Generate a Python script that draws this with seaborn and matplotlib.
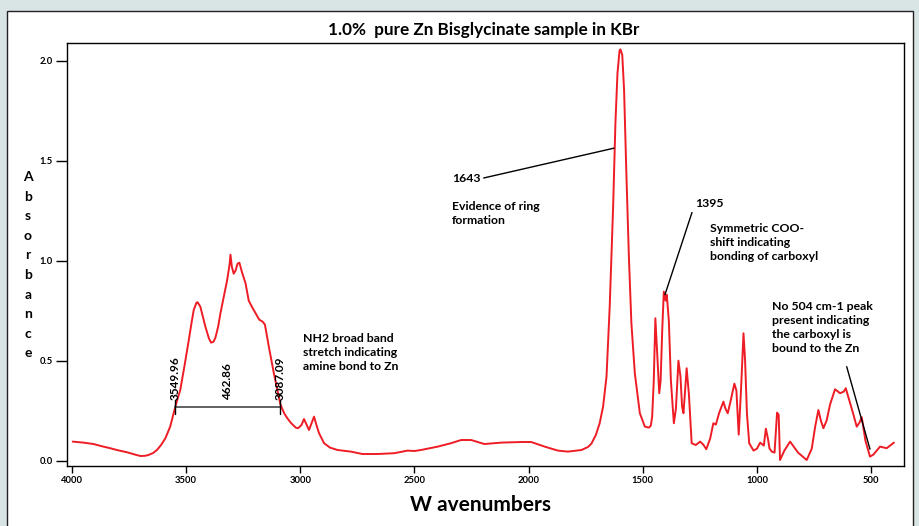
import numpy as np
import pandas as pd
import matplotlib
matplotlib.use("Agg")
import matplotlib.pyplot as plt
from matplotlib.patches import Rectangle
import seaborn as sns

# ---------------- data ----------------
wavenumber = [
    3997, 3950, 3906, 3870, 3833, 3800, 3760, 3730, 3701, 3680, 3665, 3645, 3628, 3610, 3591,
    3570, 3552, 3540, 3526, 3508, 3489, 3475, 3467, 3455, 3450, 3438, 3427, 3416, 3400, 3391,
    3380, 3372, 3360, 3350, 3335, 3321, 3310, 3306, 3300, 3292, 3284, 3275, 3267, 3255, 3240,
    3226, 3210, 3196, 3180, 3165, 3155, 3138, 3116, 3100, 3087, 3070, 3057, 3040, 3020, 3010,
    2995, 2984, 2975, 2962, 2950, 2940, 2930, 2918, 2896, 2870, 2837, 2800, 2779, 2728, 2662,
    2589, 2530, 2500, 2472, 2398, 2340, 2296, 2252, 2194, 2120, 2033, 1989, 1930, 1872, 1828,
    1769, 1740, 1725, 1705, 1689, 1674, 1659, 1645, 1630, 1620, 1611, 1602, 1598, 1590, 1582,
    1572, 1561, 1550, 1535, 1513, 1491, 1473, 1465, 1459, 1452, 1445, 1440, 1428, 1422, 1415,
    1408, 1400, 1395, 1386, 1377, 1364, 1355, 1344, 1335, 1328, 1322, 1316, 1308, 1298, 1286,
    1268, 1249, 1235, 1222, 1205, 1191, 1180, 1166, 1147, 1138, 1128, 1115, 1099, 1090, 1080,
    1070, 1059, 1052, 1044, 1034, 1015, 1000, 986, 970, 961, 952, 945, 935, 923, 912,
    905, 899, 880, 855, 820, 782, 760, 745, 731, 720, 709, 695, 680, 658, 636,
    620, 611, 595, 580, 563, 551, 541, 525, 505, 490, 461, 432, 400,
]
absorbance = [
    0.095, 0.090, 0.083, 0.072, 0.062, 0.052, 0.042, 0.032, 0.023, 0.024, 0.028, 0.038, 0.053, 0.078, 0.112,
    0.170, 0.250, 0.300, 0.353, 0.470, 0.600, 0.700, 0.753, 0.790, 0.792, 0.770, 0.720, 0.670, 0.610, 0.590,
    0.595, 0.615, 0.670, 0.737, 0.820, 0.900, 0.980, 1.030, 0.970, 0.935, 0.950, 0.985, 0.990, 0.940, 0.887,
    0.800, 0.765, 0.737, 0.705, 0.695, 0.680, 0.570, 0.437, 0.350, 0.280, 0.235, 0.212, 0.187, 0.165, 0.162,
    0.178, 0.208, 0.185, 0.153, 0.190, 0.220, 0.180, 0.137, 0.087, 0.065, 0.053, 0.048, 0.045, 0.033, 0.033,
    0.037, 0.050, 0.048, 0.053, 0.070, 0.087, 0.103, 0.103, 0.083, 0.090, 0.093, 0.093, 0.070, 0.050, 0.045,
    0.053, 0.068, 0.085, 0.130, 0.187, 0.270, 0.420, 0.770, 1.270, 1.687, 1.937, 2.050, 2.057, 2.030, 1.853,
    1.437, 1.020, 0.687, 0.437, 0.237, 0.170, 0.165, 0.175, 0.220, 0.400, 0.712, 0.600, 0.337, 0.400, 0.650,
    0.845, 0.800, 0.830, 0.700, 0.400, 0.187, 0.260, 0.500, 0.420, 0.270, 0.237, 0.330, 0.462, 0.330, 0.087,
    0.078, 0.095, 0.080, 0.057, 0.110, 0.187, 0.180, 0.237, 0.295, 0.260, 0.237, 0.300, 0.385, 0.350, 0.130,
    0.350, 0.637, 0.500, 0.237, 0.087, 0.050, 0.060, 0.090, 0.075, 0.160, 0.110, 0.060, 0.045, 0.040, 0.240,
    0.230, 0.003, 0.050, 0.095, 0.040, 0.003, 0.060, 0.170, 0.253, 0.200, 0.162, 0.200, 0.280, 0.357, 0.337,
    0.345, 0.362, 0.300, 0.240, 0.170, 0.190, 0.217, 0.100, 0.020, 0.030, 0.070, 0.062, 0.090,
]

x_ticks = [4000, 3500, 3000, 2500, 2000, 1500, 1000, 500]
y_ticks = [0.0, 0.5, 1.0, 1.5, 2.0]

title_text = "1.0%  pure Zn Bisglycinate sample in KBr"
x_label = "W avenumbers"
y_label = "Absorbance"

band_start, band_end, band_level = 3549.96, 3087.09, 0.266
band_width_label = "462.86"

peak_1643_xy = (1626, 1.563)
peak_1395_xy = (1403, 0.83)
no504_xy = (505, 0.057)

df = pd.DataFrame({"Wavenumbers": wavenumber, "Absorbance": absorbance})

# ---------------- figure ----------------
sns.set_theme(style="white")
plt.rcParams["font.family"] = ["Lato", "DejaVu Sans"]

W, H = 919, 526
fig = plt.figure(figsize=(W / 100, H / 100), dpi=100)
fig.patch.set_facecolor("#d9e5e4")
fig.add_artist(Rectangle((7 / W, -0.02), (913 - 7) / W, 1.02 - 11 / H,
                         transform=fig.transFigure, facecolor="white",
                         edgecolor="#222222", linewidth=1.0, zorder=0))

ax = fig.add_axes([67 / W, 1 - 466 / H, (904 - 67) / W, (466 - 43) / H])
ax.set_facecolor("white")

sns.lineplot(data=df, x="Wavenumbers", y="Absorbance", ax=ax, sort=False,
             estimator=None, color="#ee1c25", linewidth=1.4)

ax.set_xlim(4022, 356)
ax.set_ylim(-0.027, 2.089)
ax.set_xticks(x_ticks)
ax.set_xticklabels([str(t) for t in x_ticks])
ax.set_yticks(y_ticks)
ax.set_yticklabels([f"{t:.1f}" for t in y_ticks])
ax.tick_params(axis="both", direction="out", width=1, color="black",
               labelsize=6.8, pad=2)
for lab in ax.get_xticklabels() + ax.get_yticklabels():
    lab.set_fontweight("bold")
    lab.set_color("black")
ax.tick_params(axis="x", bottom=True, length=5)
ax.tick_params(axis="y", left=True, length=8)
for s in ax.spines.values():
    s.set_color("black")
    s.set_linewidth(1.0)
ax.set_xlabel("")
ax.set_ylabel("")

# title and axis labels
fig.text(484 / W, 1 - 30 / H, title_text, ha="center", va="center",
         fontsize=12.3, fontweight="bold", color="black")
fig.text(481 / W, 1 - 505 / H, x_label, ha="center", va="center",
         fontsize=15, fontweight="bold", color="black")
for i, ch in enumerate(y_label):
    fig.text(28 / W, 1 - (177 + i * 19.6) / H, ch, ha="center", va="center",
             fontsize=10, fontweight="bold", color="black")

# band width measurement
ax.plot([band_start, band_end], [band_level, band_level], color="#555555", lw=1.3)
for xv in (band_start, band_end):
    ax.plot([xv, xv], [band_level - 0.035, band_level + 0.035], color="black", lw=1.0)
ann_kw = dict(fontsize=8.5, fontweight="bold", color="black")
ax.text(band_start, band_level + 0.035, f"{band_start:.2f}", rotation=90,
        ha="center", va="bottom", **ann_kw)
ax.text(band_end, band_level + 0.035, f"{band_end:.2f}", rotation=90,
        ha="center", va="bottom", **ann_kw)
ax.text((band_start + band_end) / 2, band_level + 0.035, band_width_label, rotation=90,
        ha="center", va="bottom", **ann_kw)

txt_kw = dict(fontsize=8.8, fontweight="bold", color="black", linespacing=1.35)
ax.text(2988, 0.64, "NH2 broad band\nstretch indicating\namine bond to Zn",
        ha="left", va="top", **txt_kw)

# 1643
ax.annotate("1643", xy=peak_1643_xy, xytext=(2336, 1.41), ha="left", va="center",
            arrowprops=dict(arrowstyle="-", color="black", lw=1.0,
                            shrinkA=0, shrinkB=0, relpos=(1, 0.5)), **txt_kw)
ax.text(2336, 1.30, "Evidence of ring\nformation", ha="left", va="top", **txt_kw)

# 1395
ax.annotate("1395", xy=peak_1395_xy, xytext=(1272, 1.285), ha="left", va="center",
            arrowprops=dict(arrowstyle="-", color="black", lw=1.0,
                            shrinkA=0, shrinkB=0, relpos=(0, 0.5)), **txt_kw)
ax.text(1205, 1.19, "Symmetric COO-\nshift indicating\nbonding of carboxyl",
        ha="left", va="top", **txt_kw)

# No 504
ax.text(935, 0.80, "No 504 cm-1 peak\npresent indicating\nthe carboxyl is\nbound to the Zn",
        ha="left", va="top", **txt_kw)
ax.plot([607, no504_xy[0]], [0.47, no504_xy[1]], color="black", lw=1.0)

fig.savefig("out.png", dpi=100, facecolor=fig.get_facecolor())
